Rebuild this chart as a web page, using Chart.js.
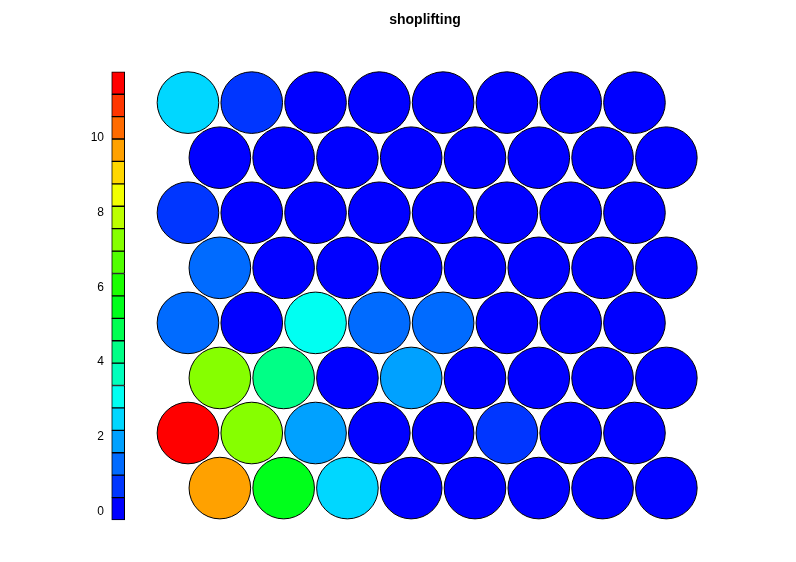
<!DOCTYPE html>
<html>
<head>
<meta charset="utf-8">
<script src="https://cdn.jsdelivr.net/npm/chart.js@4/dist/chart.umd.min.js"></script>
<style>
html,body{margin:0;padding:0;background:#fff;}
#wrap{width:796px;height:562px;}
</style>
</head>
<body>
<div id="wrap"><canvas id="c" width="796" height="562"></canvas></div>
<script>
// SOM 8x8 hexagonal grid, units ordered bottom row first, left to right
const gridRows = 8;
const gridCols = 8;
const shoplifting = [
  // row 1 (bottom)
  9.66, 5.47, 2.48, 0.10, 0.05, 0.08, 0.02, 0.06,
  // row 2
  11.76, 7.27, 1.88, 0.10, 0.12, 0.68, 0.04, 0.00,
  // row 3
  7.27, 4.27, 0.10, 1.88, 0.05, 0.03, -0.22, 0.10,
  // row 4
  1.28, 0.10, 3.07, 1.28, 1.35, 0.05, 0.02, 0.08,
  // row 5
  1.28, 0.10, 0.06, 0.04, 0.03, 0.05, 0.02, 0.07,
  // row 6
  0.68, 0.05, 0.03, 0.06, 0.02, 0.04, 0.05, 0.03,
  // row 7
  0.04, 0.02, 0.05, 0.03, 0.06, 0.02, 0.04, 0.05,
  // row 8 (top)
  2.48, 0.68, 0.05, 0.03, 0.02, 0.04, 0.06, 0.03
];
const colorbarTicks = [0, 2, 4, 6, 8, 10];
const nColors = 20;
const titleText = 'shoplifting';

// rainbow palette (blue -> red), like rev(rainbow(n, end = 4/6))
function hsvToHex(h) {
  const c = 1, x = 1 - Math.abs(((h / 60) % 2) - 1);
  let r = 0, g = 0, b = 0;
  if (h < 60) { r = c; g = x; }
  else if (h < 120) { r = x; g = c; }
  else if (h < 180) { g = c; b = x; }
  else if (h < 240) { g = x; b = c; }
  else { r = x; b = c; }
  const t = v => Math.round(v * 255).toString(16).padStart(2, '0');
  return '#' + t(r) + t(g) + t(b);
}
const palette = [];
for (let i = 0; i < nColors; i++) palette.push(hsvToHex(240 * (1 - i / (nColors - 1))));

const zmin = Math.min(...shoplifting);
const zmax = Math.max(...shoplifting);
const dz = (zmax - zmin) / nColors;
function colorFor(v) {
  let i = Math.floor((v - zmin) / dz);
  if (i < 0) i = 0;
  if (i > nColors - 1) i = nColors - 1;
  return palette[i];
}

// grid coordinates of units (hexagonal somgrid)
const unitPts = shoplifting.map((v, k) => {
  const r = Math.floor(k / gridCols) + 1;
  const c = (k % gridCols) + 1;
  return { x: c + (r % 2 === 1 ? 0.5 : 0), y: r * Math.sqrt(3) / 2 };
});

// colour bar segments
const cbX = -0.0935;
const cbData = palette.map((col, i) => ({ x: cbX, y: [zmin + i * dz, zmin + (i + 1) * dz] }));

const FONT = '"Liberation Sans", Arial, sans-serif';

new Chart(document.getElementById('c'), {
  data: {
    datasets: [
      {
        type: 'scatter',
        data: unitPts,
        xAxisID: 'x',
        yAxisID: 'y',
        pointRadius: 30.8,
        pointHoverRadius: 30.8,
        pointBackgroundColor: shoplifting.map(colorFor),
        pointBorderColor: '#000',
        pointBorderWidth: 1,
        pointHoverBorderWidth: 1,
        clip: false
      },
      {
        type: 'bar',
        data: cbData,
        xAxisID: 'x',
        yAxisID: 'yc',
        backgroundColor: palette,
        borderColor: '#000',
        borderWidth: 1,
        borderSkipped: false,
        barThickness: 13,
        clip: false
      }
    ]
  },
  options: {
    responsive: false,
    animation: false,
    events: [],
    layout: { padding: { left: 64, right: 10, top: 0, bottom: 42 } },
    plugins: {
      legend: { display: false },
      tooltip: { enabled: false },
      title: {
        display: true,
        text: titleText,
        color: '#000',
        font: { family: FONT, size: 14, weight: 'bold' },
        padding: { top: 12, bottom: 43 }
      }
    },
    scales: {
      x: { type: 'linear', display: false, offset: false, min: -0.2535, max: 10.034 },
      y: { type: 'linear', display: false, min: 0.364, max: 7.413 },
      yc: {
        type: 'linear',
        position: 'left',
        min: zmin,
        max: zmax,
        grid: { display: false, drawTicks: false },
        border: { display: false },
        ticks: { color: '#000', font: { family: FONT, size: 12 }, padding: 4 },
        afterBuildTicks: s => { s.ticks = colorbarTicks.map(v => ({ value: v })); },
        afterFit: s => { s.width = 44; }
      }
    }
  }
});
</script>
</body>
</html>
